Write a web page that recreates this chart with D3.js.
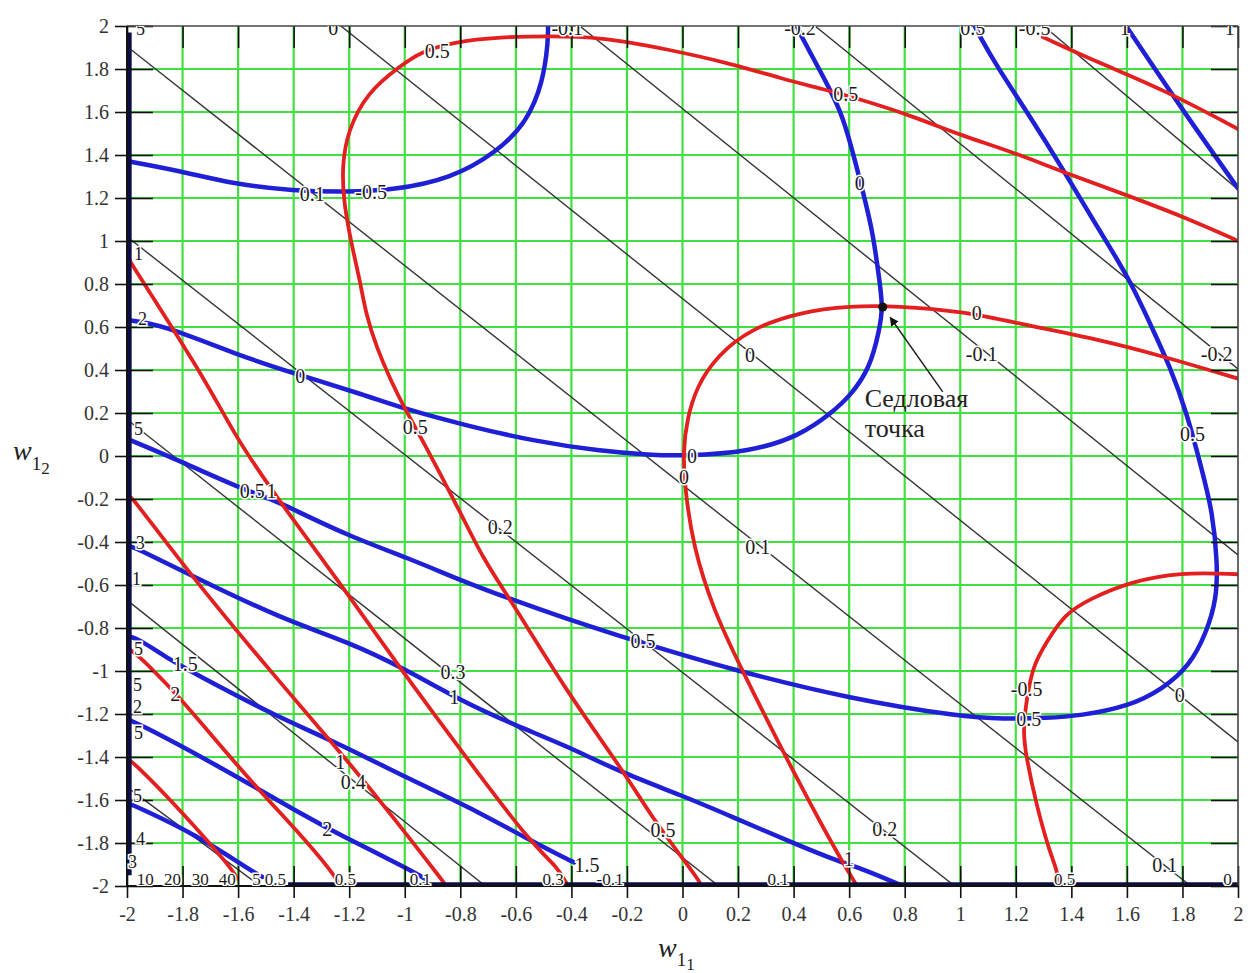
<!DOCTYPE html>
<html>
<head>
<meta charset="utf-8">
<script src="https://cdn.jsdelivr.net/npm/d3@7"></script>
<style>
  body { margin: 0; background: #fff; }
  svg text { font-family: "Liberation Serif", "Times New Roman", serif; }
</style>
</head>
<body>
<svg id="chart" width="1250" height="973"></svg>
<script>
// ---- axis ticks -------------------------------------------------------
const tickValues = [-2, -1.8, -1.6, -1.4, -1.2, -1, -0.8, -0.6, -0.4, -0.2, 0,
                    0.2, 0.4, 0.6, 0.8, 1, 1.2, 1.4, 1.6, 1.8, 2];
const gridValues = [-1.8, -1.6, -1.4, -1.2, -1, -0.8, -0.6, -0.4, -0.2, 0,
                    0.2, 0.4, 0.6, 0.8, 1, 1.2, 1.4, 1.6, 1.8];

// ---- thin black contours (levels 0.5 ... -0.3), endpoints (w11, w12) ----
const linearContours = [
  [[-2, -1.54], [-1.52, -2]],     // 0.5
  [[-2, -0.67], [-0.71, -2]],     // 0.4
  [[-2, 0.17], [0.13, -2]],       // 0.3
  [[-2, 1.02], [0.98, -2]],       // 0.2
  [[-2, 1.905], [1.83, -2]],      // 0.1
  [[-1.23, 2], [2, -1.33]],       // 0
  [[-0.37, 2], [2, -0.46]],       // -0.1
  [[0.477, 2], [2, 0.405]],       // -0.2
  [[1.30, 2], [2, 1.24]]          // -0.3
];

// ---- blue contours ------------------------------------------------------
const blueContours = [
  [[-2, 1.372], [-1.808, 1.326], [-1.617, 1.265], [-1.401, 1.233], [-1.207, 1.228],
   [-1.041, 1.237], [-0.836, 1.288], [-0.667, 1.414], [-0.560, 1.553], [-0.502, 1.740],
   [-0.484, 1.926], [-0.484, 2.0]],
  [[-2, 0.632], [-1.880, 0.614], [-1.592, 0.465], [-1.40, 0.385], [-1.135, 0.28],
   [-1.016, 0.225], [-0.775, 0.140], [-0.538, 0.070], [-0.297, 0.023], [-0.117, 0.005],
   [0.002, 0.0], [0.243, 0.019], [0.423, 0.093], [0.541, 0.205], [0.603, 0.279],
   [0.674, 0.405], [0.710, 0.591], [0.721, 0.693], [0.710, 0.809], [0.685, 1.042],
   [0.656, 1.195], [0.620, 1.381], [0.577, 1.581], [0.531, 1.707], [0.423, 1.963], [0.412, 2.0]],
  [[-2, 0.08], [-1.801, -0.028], [-1.610, -0.140], [-1.466, -0.209], [-1.419, -0.237],
   [-1.203, -0.372], [-0.962, -0.488], [-0.811, -0.572], [-0.621, -0.665], [-0.416, -0.758],
   [-0.214, -0.842], [-0.070, -0.898], [0.171, -0.991], [0.603, -1.130], [1.009, -1.214],
   [1.153, -1.223], [1.311, -1.219], [1.430, -1.209], [1.610, -1.163], [1.728, -1.084],
   [1.826, -0.977], [1.887, -0.819], [1.923, -0.665], [1.926, -0.493], [1.908, -0.260],
   [1.872, -0.074], [1.815, 0.205], [1.754, 0.419], [1.692, 0.591], [1.610, 0.823],
   [1.491, 1.070], [1.369, 1.335], [1.250, 1.581], [1.131, 1.814], [1.070, 1.953], [1.052, 2.0]],
  [[-2, -0.415], [-1.958, -0.433], [-1.743, -0.572], [-1.441, -0.758], [-1.203, -0.865],
   [-0.998, -0.991], [-0.790, -1.144], [-0.596, -1.256], [-0.416, -1.349], [-0.225, -1.470],
   [0.002, -1.581], [0.171, -1.674], [0.423, -1.814], [0.567, -1.888], [0.649, -1.921], [0.793, -2.0]],
  [[-1.99, -0.84], [-1.958, -0.851], [-1.850, -0.944], [-1.754, -1.014], [-1.466, -1.209],
   [-1.250, -1.330], [-0.962, -1.516], [-0.775, -1.628], [-0.538, -1.795], [-0.416, -1.874], [-0.39, -1.89]],
  [[-2, -1.225], [-1.969, -1.237], [-1.682, -1.433], [-1.322, -1.702], [-1.239, -1.758],
   [-0.987, -1.921], [-0.926, -1.967]],
  [[-2, -1.615], [-1.969, -1.628], [-1.743, -1.767], [-1.563, -1.921], [-1.513, -1.958]],
  [[1.597, 2], [1.790, 1.628], [2, 1.245]]
];

// ---- red contours -------------------------------------------------------
const redContours = [
  [[2, 1.0], [1.851, 1.088], [1.610, 1.209], [1.369, 1.321], [1.189, 1.414], [1.009, 1.488],
   [0.829, 1.581], [0.638, 1.660], [0.505, 1.707], [0.362, 1.753], [0.182, 1.823], [-0.056, 1.893],
   [-0.297, 1.949], [-0.477, 1.953], [-0.656, 1.949], [-0.826, 1.926], [-0.944, 1.879],
   [-1.016, 1.814], [-1.135, 1.693], [-1.207, 1.507], [-1.225, 1.349], [-1.221, 1.195],
   [-1.196, 1.009], [-1.160, 0.809], [-1.140, 0.66], [-1.10, 0.50], [-1.05, 0.35], [-1.00, 0.22],
   [-0.944, 0.093], [-0.800, -0.260], [-0.718, -0.479], [-0.621, -0.665], [-0.416, -1.098],
   [-0.225, -1.442], [-0.106, -1.688], [0.002, -1.874], [0.063, -1.981], [0.067, -2]],
  [[2, 0.36], [1.728, 0.465], [1.491, 0.544], [1.250, 0.605], [1.009, 0.674], [0.771, 0.698],
   [0.603, 0.698], [0.423, 0.670], [0.243, 0.591], [0.124, 0.465], [0.052, 0.326], [0.016, 0.172],
   [0.002, 0.019], [0.009, -0.153], [0.038, -0.419], [0.110, -0.712], [0.207, -0.977],
   [0.362, -1.377], [0.541, -1.814], [0.628, -2.0]],
  [[2, -0.55], [1.790, -0.540], [1.610, -0.586], [1.466, -0.665], [1.376, -0.735], [1.311, -0.865],
   [1.261, -0.977], [1.239, -1.130], [1.225, -1.284], [1.239, -1.409], [1.275, -1.628],
   [1.322, -1.842], [1.347, -1.921], [1.358, -2.0]],
  [[1.297, 1.949], [1.491, 1.833], [1.728, 1.707], [2, 1.521]],
  [[-1.99, 0.91], [-1.984, 0.893], [-1.736, 0.395], [-1.610, 0.093], [-1.513, -0.093],
   [-1.430, -0.247], [-1.225, -0.605], [-1.023, -0.977], [-0.775, -1.409], [-0.538, -1.814],
   [-0.452, -1.907], [-0.412, -2.0]],
  [[-1.99, -0.19], [-1.977, -0.200], [-1.779, -0.540], [-1.513, -0.958], [-1.225, -1.386],
   [-1.016, -1.721], [-0.861, -1.981], [-0.85, -2]],
  [[-2, -0.89], [-1.944, -0.944], [-1.851, -1.070], [-1.790, -1.153], [-1.563, -1.502],
   [-1.383, -1.749], [-1.261, -1.935], [-1.232, -2.0]],
  [[-2, -1.41], [-1.977, -1.423], [-1.801, -1.656], [-1.621, -1.921], [-1.603, -1.967]]
];

// dense contour bundles that pile up along the left and bottom borders
const edgeBands = [
  [[-1.994, 1.97], [-1.994, -1.95]],
  [[-1.42, -1.994], [2, -1.994]]
];

// ---- contour labels: [text, w11, w12] ----------------------------------
const blackLabels = [
  ["0", -1.257, 1.99], ["-0.1", -0.415, 1.99], ["-0.2", 0.423, 1.99],
  ["0.1", -1.333, 1.219], ["0", 0.243, 0.47], ["-0.1", 1.077, 0.474], ["-0.2", 1.923, 0.474],
  ["0.1", 0.271, -0.423], ["0.2", -0.656, -0.330], ["0", 1.790, -1.112], ["0.2", 0.728, -1.735],
  ["0.1", 1.736, -1.902], ["0.3", -0.826, -1.005], ["0.4", -1.185, -1.516]
];
const blueLabels = [
  ["-0.5", -1.121, 1.228], ["0", -1.376, 0.372], ["0", 0.034, 0.0], ["0", 0.638, 1.270],
  ["0.5", 1.836, 0.102], ["0.5", 1.247, -1.223], ["0.5", -0.142, -0.860], ["0.5", -1.549, -0.163],
  ["1", -0.822, -1.121], ["1", 0.599, -1.874], ["1.5", -1.790, -0.967], ["1.5", -0.344, -1.902],
  ["2", -1.279, -1.735], ["0.5", 1.045, 1.99], ["1", 1.592, 1.99], ["1", 1.970, 1.99]
];
const redLabels = [
  ["0.5", -0.883, 1.884], ["0.5", 0.588, 1.684], ["0.5", -0.962, 0.135], ["0.5", -0.070, -1.740],
  ["0", 1.059, 0.665], ["0", 0.005, -0.098], ["-0.5", 1.239, -1.084], ["1", -1.480, -0.163],
  ["1", -1.232, -1.423], ["2", -1.826, -1.107], ["-0.5", 1.268, 1.99]
];
// crowded labels squeezed against the left border
const leftEdgeLabels = [
  ["5", -1.951, 1.986], ["1", -1.959, 0.940], ["2", -1.944, 0.637], ["5", -1.959, 0.126],
  ["3", -1.952, -0.405], ["1", -1.966, -0.572], ["5", -1.959, -0.898], ["5", -1.962, -1.066],
  ["2", -1.962, -1.168], ["5", -1.959, -1.288], ["5", -1.962, -1.581], ["4", -1.951, -1.781],
  ["3", -1.980, -1.888]
];
// crowded labels squeezed against the bottom border
const bottomEdgeLabels = [
  ["10", -1.934, -1.972], ["20", -1.836, -1.972], ["30", -1.736, -1.972], ["40", -1.639, -1.972],
  ["5", -1.534, -1.972], ["0.5", -1.466, -1.972], ["0.5", -1.214, -1.972], ["0.1", -0.944, -1.972],
  ["0.3", -0.466, -1.972], ["-0.1", -0.261, -1.972], ["0.1", 0.344, -1.972], ["0.5", 1.376, -1.972],
  ["0", 1.962, -1.972]
];

// ---- saddle point annotation -------------------------------------------
const saddlePoint = [0.721, 0.693];
const saddleArrow = [[0.937, 0.298], [0.748, 0.644]];
const saddleText = [["Седловая", 0.656, 0.228], ["точка", 0.656, 0.088]];

// ------------------------------------------------------------------------
const svg = d3.select("#chart");
const x = d3.scaleLinear().domain([-2, 2]).range([127, 1238]);
const y = d3.scaleLinear().domain([-2, 2]).range([886, 26]);

svg.append("rect").attr("width", 1250).attr("height", 973).attr("fill", "#fff");

const defs = svg.append("defs");
defs.append("clipPath").attr("id", "plot")
  .append("rect")
  .attr("x", x(-2)).attr("y", y(2))
  .attr("width", x(2) - x(-2)).attr("height", y(-2) - y(2));

defs.append("marker").attr("id", "arrowHead")
  .attr("viewBox", "0 0 10 10").attr("refX", 9).attr("refY", 5)
  .attr("markerWidth", 9).attr("markerHeight", 9).attr("markerUnits", "userSpaceOnUse")
  .attr("orient", "auto")
  .append("path").attr("d", "M0,0 L10,5 L0,10 z").attr("fill", "#111");

// green grid
const grid = svg.append("g").attr("clip-path", "url(#plot)");
grid.selectAll("line.gv").data(gridValues).join("line").attr("class", "gv")
  .attr("x1", d => x(d)).attr("x2", d => x(d)).attr("y1", y(2)).attr("y2", y(-2))
  .attr("stroke", "#40e040").attr("stroke-width", 2.2);
grid.selectAll("line.gh").data(gridValues).join("line").attr("class", "gh")
  .attr("y1", d => y(d)).attr("y2", d => y(d)).attr("x1", x(-2)).attr("x2", x(2))
  .attr("stroke", "#40e040").attr("stroke-width", 2.2);

const curve = d3.line().x(d => x(d[0])).y(d => y(d[1])).curve(d3.curveBasis);
const straight = d3.line().x(d => x(d[0])).y(d => y(d[1]));

const plot = svg.append("g").attr("clip-path", "url(#plot)").attr("fill", "none");

plot.selectAll("path.lin").data(linearContours).join("path").attr("class", "lin")
  .attr("d", straight).attr("stroke", "#333").attr("stroke-width", 1.4);

plot.selectAll("path.blue").data(blueContours).join("path").attr("class", "blue")
  .attr("d", curve).attr("stroke", "#1f1fd6").attr("stroke-width", 4.5)
  .attr("stroke-linejoin", "round").attr("stroke-linecap", "round");

plot.selectAll("path.red").data(redContours).join("path").attr("class", "red")
  .attr("d", curve).attr("stroke", "#e41f1f").attr("stroke-width", 3.8)
  .attr("stroke-linejoin", "round").attr("stroke-linecap", "round");

plot.selectAll("path.edge").data(edgeBands).join("path").attr("class", "edge")
  .attr("d", straight).attr("stroke", "#0d0d45")
  .attr("stroke-width", (d, i) => i === 0 ? 6 : 5);

// axes: outer ticks with labels, inner ticks without
const fmt = d => String(Math.round(d * 10) / 10);
function styleAxis(g) {
  g.select(".domain").remove();
  g.selectAll(".tick line").attr("stroke", "#111").attr("stroke-width", 1.6);
  g.selectAll(".tick text").attr("fill", "#333").attr("font-size", 20)
    .attr("font-family", "'Liberation Serif', 'Times New Roman', serif");
}
svg.append("g").attr("transform", `translate(${x(-2)},0)`)
  .call(d3.axisLeft(y).tickValues(tickValues).tickSize(12).tickPadding(6).tickFormat(fmt))
  .call(styleAxis);
svg.append("g").attr("transform", `translate(${x(-2)},0)`)
  .call(d3.axisRight(y).tickValues(tickValues).tickSize(26).tickFormat(""))
  .call(styleAxis);
svg.append("g").attr("transform", `translate(0,${y(-2)})`)
  .call(d3.axisBottom(x).tickValues(tickValues).tickSize(12).tickPadding(9).tickFormat(fmt))
  .call(styleAxis);
svg.append("g").attr("transform", `translate(0,${y(-2)})`)
  .call(d3.axisTop(x).tickValues(tickValues).tickSize(20).tickFormat(""))
  .call(styleAxis);
svg.append("g").attr("transform", `translate(0,${y(2)})`)
  .call(d3.axisBottom(x).tickValues(tickValues).tickSize(22).tickFormat(""))
  .call(styleAxis);
svg.append("g").attr("transform", `translate(${x(2)},0)`)
  .call(d3.axisLeft(y).tickValues(tickValues).tickSize(27).tickFormat(""))
  .call(styleAxis);

// plot frame
const frame = svg.append("g");
frame.append("line").attr("x1", x(-2)).attr("x2", x(2)).attr("y1", y(2)).attr("y2", y(2))
  .attr("stroke", "#444").attr("stroke-width", 1.6);
frame.append("line").attr("x1", x(2)).attr("x2", x(2)).attr("y1", y(2)).attr("y2", y(-2))
  .attr("stroke", "#444").attr("stroke-width", 1.6);
frame.append("line").attr("x1", x(-2)).attr("x2", x(-2)).attr("y1", y(2)).attr("y2", y(-2))
  .attr("stroke", "#111").attr("stroke-width", 2);
frame.append("line").attr("x1", x(-2)).attr("x2", x(2)).attr("y1", y(-2)).attr("y2", y(-2))
  .attr("stroke", "#111").attr("stroke-width", 2);

// contour labels
const labels = svg.append("g").attr("clip-path", "url(#plot)");
function drawLabels(arr, size) {
  labels.append("g").selectAll("text").data(arr).join("text")
    .attr("x", d => x(d[1])).attr("y", d => y(d[2]))
    .attr("text-anchor", "middle").attr("dominant-baseline", "central")
    .attr("font-size", size).attr("fill", "#1a1a1a")
    .attr("stroke", "#fff").attr("stroke-width", 3).attr("paint-order", "stroke")
    .text(d => d[0]);
}
drawLabels(blackLabels, 20);
drawLabels(blueLabels, 20);
drawLabels(redLabels, 20);
drawLabels(leftEdgeLabels, 18);
drawLabels(bottomEdgeLabels, 17);

// saddle point
svg.append("circle").attr("cx", x(saddlePoint[0])).attr("cy", y(saddlePoint[1]))
  .attr("r", 4.5).attr("fill", "#111");
svg.append("path").datum(saddleArrow).attr("d", straight)
  .attr("stroke", "#222").attr("stroke-width", 1.5).attr("fill", "none")
  .attr("marker-end", "url(#arrowHead)");
svg.append("g").selectAll("text").data(saddleText).join("text")
  .attr("x", d => x(d[1])).attr("y", d => y(d[2]))
  .attr("font-size", 26).attr("fill", "#222")
  .text(d => d[0]);

// axis titles
const yTitle = svg.append("text").attr("x", 13).attr("y", 460).attr("fill", "#222");
yTitle.append("tspan").attr("font-size", 28).attr("font-style", "italic").text("w");
yTitle.append("tspan").attr("font-size", 19).attr("dy", 10).text("1");
yTitle.append("tspan").attr("font-size", 17).attr("dy", 4).text("2");

const xTitle = svg.append("text").attr("x", 658).attr("y", 957).attr("fill", "#222");
xTitle.append("tspan").attr("font-size", 28).attr("font-style", "italic").text("w");
xTitle.append("tspan").attr("font-size", 19).attr("dy", 9).text("1");
xTitle.append("tspan").attr("font-size", 17).attr("dy", 4).text("1");
</script>
</body>
</html>
